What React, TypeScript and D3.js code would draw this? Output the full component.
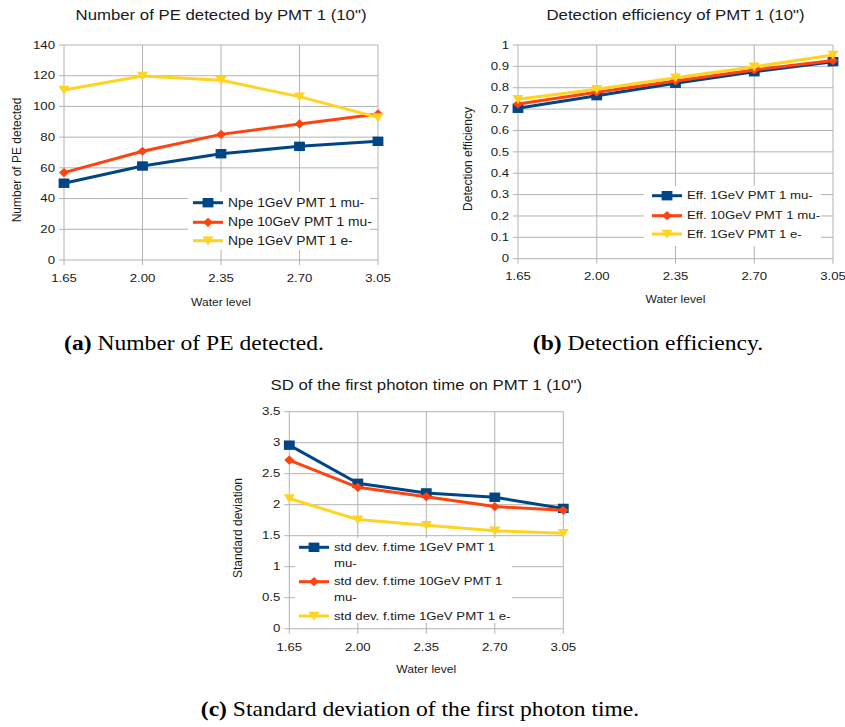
import React from "react";
import * as d3 from "d3";

const categories = ["1.65", "2.00", "2.35", "2.70", "3.05"];

const npeMu1 = [50, 61.2, 69.2, 74.0, 77.3];
const npeMu10 = [56.9, 70.8, 81.8, 88.6, 95.1];
const npeE1 = [110.7, 119.8, 117, 106.4, 92.9];

const effMu1 = [0.704, 0.763, 0.821, 0.875, 0.922];
const effMu10 = [0.724, 0.779, 0.832, 0.883, 0.927];
const effE1 = [0.746, 0.793, 0.847, 0.898, 0.953];

const sdMu1 = [2.96, 2.345, 2.19, 2.12, 1.94];
const sdMu10 = [2.72, 2.28, 2.13, 1.97, 1.91];
const sdE1 = [2.1, 1.76, 1.67, 1.58, 1.54];

const npeTicks = [0, 20, 40, 60, 80, 100, 120, 140];
const effTicks = [0, 0.1, 0.2, 0.3, 0.4, 0.5, 0.6, 0.7, 0.8, 0.9, 1];
const sdTicks = [0, 0.5, 1, 1.5, 2, 2.5, 3, 3.5];

const npeLabels = [["Npe 1GeV PMT 1 mu-"], ["Npe 10GeV PMT 1 mu-"], ["Npe 1GeV PMT 1 e-"]];
const effLabels = [["Eff. 1GeV PMT 1 mu-"], ["Eff. 10GeV PMT 1 mu-"], ["Eff. 1GeV PMT 1 e-"]];
const sdLabels = [
  ["std dev. f.time 1GeV PMT 1", "mu-"],
  ["std dev. f.time 10GeV PMT 1", "mu-"],
  ["std dev. f.time 1GeV PMT 1 e-"],
];

const COLORS = ["#004586", "#ff420e", "#ffd320"];
const SHAPES = ["square", "diamond", "triangle"];
const SX = 1.15;
const GRID = "#b3b3b3";
const SANS = "'Liberation Sans', Arial, sans-serif";
const SERIF = "'Liberation Serif', 'Times New Roman', serif";

function markerPath(shape: string): string {
  if (shape === "square") return "M-4.7,-4.7H4.7V4.7H-4.7Z";
  if (shape === "diamond") return "M0,-4.6L4.4,0L0,4.6L-4.4,0Z";
  return "M-4.8,-4.2H4.8L0,4.8Z";
}

function T(props: any) {
  const { x, y, rot, sx, children, ...rest } = props;
  const s = sx === undefined ? SX : sx;
  const tr = `translate(${x},${y}) scale(${s},1)` + (rot ? ` rotate(${rot})` : "");
  return (
    <text transform={tr} fontFamily={SANS} fill="#1a1a1a" {...rest}>
      {children}
    </text>
  );
}

function Marker({ x, y, shape, color }: any) {
  return <path d={markerPath(shape)} transform={`translate(${x},${y}) scale(${SX},1)`} fill={color} />;
}

function Chart(props: any) {
  const {
    left, right, top, bottom, domain, ticks, series, labels, title, titleY, yTitle, yTitleX, yTitleY,
    xLabelY, xTitleY, legend, legendFont,
  } = props;
  const x = d3.scalePoint<string>().domain(categories).range([left, right]);
  const y = d3.scaleLinear().domain(domain).range([bottom, top]);
  const line = d3
    .line<number>()
    .x((_, i) => x(categories[i]) as number)
    .y((d) => y(d));
  const cx = (left + right) / 2;
  return (
    <g>
      {ticks.map((t: number) => (
        <line key={"h" + t} x1={left - 5} x2={right} y1={y(t)} y2={y(t)} stroke={GRID} strokeWidth={1} />
      ))}
      {categories.map((c) => (
        <line key={"v" + c} x1={x(c)} x2={x(c)} y1={top} y2={bottom + 5} stroke={GRID} strokeWidth={1} />
      ))}
      {ticks.map((t: number) => (
        <T key={"yl" + t} x={left - 9} y={y(t)} fontSize={11.5} textAnchor="end" dominantBaseline="central">
          {String(t)}
        </T>
      ))}
      {categories.map((c) => (
        <T key={"xl" + c} x={x(c)} y={xLabelY} fontSize={11.5} textAnchor="middle">
          {c}
        </T>
      ))}
      <T x={cx} y={titleY} fontSize={14.6} textAnchor="middle">
        {title}
      </T>
      <T x={cx} y={xTitleY} fontSize={10.5} textAnchor="middle">
        Water level
      </T>
      <T x={yTitleX} y={yTitleY} sx={1} rot={-90} fontSize={12} textAnchor="middle" dominantBaseline="central">
        {yTitle}
      </T>
      {series.map((s: number[], k: number) => (
        <g key={"s" + k}>
          <path d={line(s) as string} fill="none" stroke={COLORS[k]} strokeWidth={3} strokeLinejoin="round" />
          {s.map((v, i) => (
            <Marker key={i} x={x(categories[i])} y={y(v)} shape={SHAPES[k]} color={COLORS[k]} />
          ))}
        </g>
      ))}
      <rect x={legend.x0} y={legend.y0} width={legend.x1 - legend.x0} height={legend.y1 - legend.y0} fill="#fff" />
      {labels.map((lab: string[], k: number) => (
        <g key={"lg" + k}>
          <line x1={legend.lx} x2={legend.lx + 30} y1={legend.rows[k]} y2={legend.rows[k]} stroke={COLORS[k]} strokeWidth={3} />
          <Marker x={legend.lx + 15} y={legend.rows[k]} shape={SHAPES[k]} color={COLORS[k]} />
          {lab.map((txt, j) => (
            <T key={j} x={legend.lx + 35} y={legend.rows[k] + j * 15.5} fontSize={legendFont} dominantBaseline="central">
              {txt}
            </T>
          ))}
        </g>
      ))}
    </g>
  );
}

function Caption({ x, y, tag, text }: any) {
  return (
    <text transform={`translate(${x},${y}) scale(${SX},1)`} fontFamily={SERIF} fontSize={20.5} textAnchor="middle" fill="#000">
      <tspan fontWeight="bold">{tag}</tspan>
      <tspan>{" " + text}</tspan>
    </text>
  );
}

export default function App() {
  return (
    <svg width={845} height={727} style={{ position: "absolute", left: 0, top: 0, background: "#fff" }}>
      <rect x={0} y={0} width={845} height={727} fill="#fff" />
      <Chart
        left={64}
        right={378}
        top={45}
        bottom={260}
        domain={[0, 140]}
        ticks={npeTicks}
        series={[npeMu1, npeMu10, npeE1]}
        labels={npeLabels}
        legendFont={12}
        title={'Number of PE detected by PMT 1 (10")'}
        titleY={20}
        yTitle="Number of PE detected"
        yTitleX={17}
        yTitleY={160}
        xLabelY={281.5}
        xTitleY={305.5}
        legend={{ x0: 188, x1: 370, y0: 192, y1: 250, lx: 193, rows: [202.7, 222.3, 240.7] }}
      />
      <Chart
        left={518}
        right={833}
        top={45}
        bottom={258.7}
        domain={[0, 1]}
        ticks={effTicks}
        series={[effMu1, effMu10, effE1]}
        labels={effLabels}
        legendFont={11.5}
        title={'Detection efficiency of PMT 1 (10")'}
        titleY={20}
        yTitle="Detection efficiency"
        yTitleX={468}
        yTitleY={159}
        xLabelY={280}
        xTitleY={303}
        legend={{ x0: 644, x1: 821, y0: 186, y1: 246, lx: 652, rows: [195.7, 215.7, 234] }}
      />
      <Chart
        left={289.3}
        right={563.3}
        top={411.7}
        bottom={628.7}
        domain={[0, 3.5]}
        ticks={sdTicks}
        series={[sdMu1, sdMu10, sdE1]}
        labels={sdLabels}
        legendFont={11.5}
        title={'SD of the first photon time on PMT 1 (10")'}
        titleY={390}
        yTitle="Standard deviation"
        yTitleX={238}
        yTitleY={528}
        xLabelY={651}
        xTitleY={673}
        legend={{ x0: 295, x1: 512, y0: 538, y1: 623, lx: 299, rows: [547.3, 581.7, 616] }}
      />
      <Caption x={194} y={350} tag="(a)" text="Number of PE detected." />
      <Caption x={648} y={350} tag="(b)" text="Detection efficiency." />
      <Caption x={420} y={716} tag="(c)" text="Standard deviation of the first photon time." />
    </svg>
  );
}
